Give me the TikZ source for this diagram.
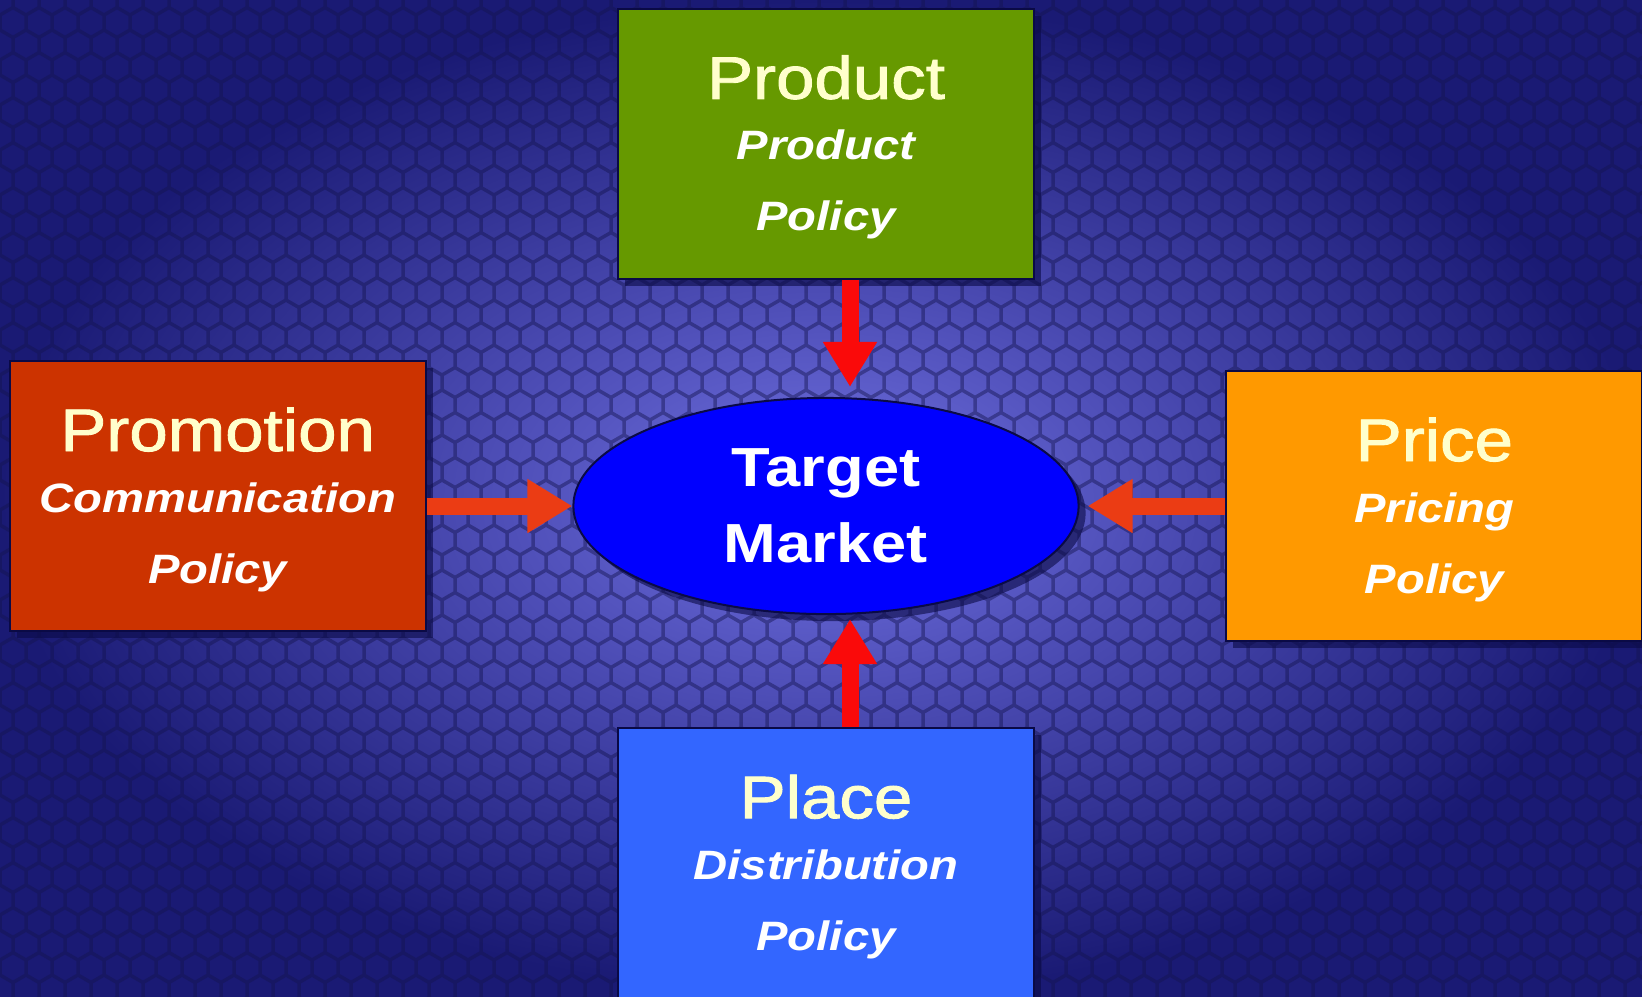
\documentclass[tikz,border=0pt]{standalone}
\usepackage{fontspec}
\setmainfont{Liberation Sans}[FakeStretch=1.15]
\newfontfamily\headface{Liberation Sans}[FakeStretch=1.15, FakeBold=1.5]
\usetikzlibrary{positioning, arrows.meta, shadows, shapes.geometric}

\definecolor{bginner}{RGB}{112,112,226}
\definecolor{bgouter}{RGB}{26,26,116}
\definecolor{cellline}{RGB}{20,20,80}
\definecolor{productgreen}{RGB}{102,153,0}
\definecolor{promotionred}{RGB}{204,51,0}
\definecolor{priceorange}{RGB}{255,153,0}
\definecolor{placeblue}{RGB}{51,102,255}
\definecolor{targetblue}{RGB}{0,0,255}
\definecolor{edgenavy}{RGB}{10,10,70}
\definecolor{headyellow}{RGB}{255,255,204}
\definecolor{arrowred}{RGB}{250,10,10}
\definecolor{arroworange}{RGB}{235,60,20}

\newcommand{\boxhead}{\fontsize{17.07pt}{17.07pt}\headface\mdseries\upshape\color{headyellow}\rule{0pt}{14.4pt}}
\newcommand{\boxsub}{\fontsize{11.67pt}{20.2pt}\selectfont\bfseries\itshape}

\begin{document}
\begin{tikzpicture}[x=0.01cm, y=-0.01cm, on grid,
    mixbox/.style={rectangle, draw=edgenavy, line width=0.02cm, minimum width=4.16cm,
      minimum height=2.70cm, inner sep=0pt, align=center, text=white, font=\boxsub,
      drop shadow={shadow xshift=0.07cm, shadow yshift=-0.07cm, opacity=0.6, fill=edgenavy}},
    bigarrow/.style={line width=0.17cm, -{Triangle[width=0.51cm, length=0.45cm]}}]
  % background with mosaic
  \useasboundingbox (0,0) rectangle (1642,996);
  \shade[inner color=bginner, outer color=bgouter] (0,0) rectangle (1642,996);
  \draw[cellline, line width=0.035cm, opacity=0.45]
    foreach \r in {0,...,45} { foreach \c in {0,...,64} {
      ({\c*26+mod(\r,2)*13},{\r*22.5}) ++(210:15) -- ++(90:15) -- ++(30:15) -- ++(-30:15) } };

  \node[ellipse, draw=edgenavy, line width=0.02cm, fill=targetblue, minimum width=5.05cm,
    minimum height=2.16cm, inner sep=0pt, align=center, text=white,
    font={\fontsize{15.65pt}{21.6pt}\selectfont\bfseries},
    drop shadow={shadow xshift=0.07cm, shadow yshift=-0.07cm, opacity=0.6, fill=edgenavy}]
    (target) at (826,506) {Target\\Market};
  \node[mixbox, fill=productgreen] (product) [above=3.62cm of target]
    {{\boxhead Product}\\[-2.84pt]Product\\Policy};
  \node[mixbox, fill=placeblue] (place) [below=3.57cm of target]
    {{\boxhead Place}\\[-2.84pt]Distribution\\Policy};
  \node[mixbox, fill=promotionred] (promotion) [left=6.08cm of target, yshift=0.1cm]
    {{\boxhead Promotion}\\[-2.84pt]Communication\\Policy};
  \node[mixbox, fill=priceorange] (price) [right=6.08cm of target]
    {{\boxhead Price}\\[-2.84pt]Pricing\\Policy};

  \draw[bigarrow, arrowred, shorten >=0.1cm] ([xshift=0.24cm]product.south) -- ([xshift=0.24cm]target.north);
  \draw[bigarrow, arrowred, shorten >=0.04cm] ([xshift=0.24cm]place.north) -- ([xshift=0.24cm]target.south);
  \draw[bigarrow, arroworange] (promotion.east |- target.west) -- (target.west);
  \draw[bigarrow, arroworange, shorten >=0.08cm] (price.west |- target.east) -- (target.east);
\end{tikzpicture}
\end{document}
